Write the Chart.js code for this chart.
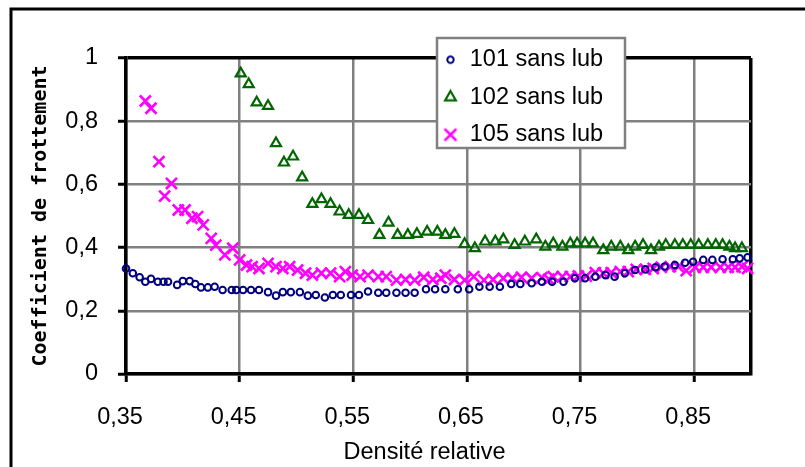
<!DOCTYPE html>
<html><head><meta charset="utf-8">
<script src="https://cdn.jsdelivr.net/npm/chart.js@4/dist/chart.umd.min.js"></script>
<style>html,body{margin:0;padding:0;background:#fff;}#wrap{width:805px;height:467px;}</style>
</head><body><div id="wrap"><canvas id="c" width="805" height="467"></canvas></div>
<script>
// ---- data ----
const seriesNames = ['101 sans lub', '102 sans lub', '105 sans lub'];
const x101 = [0.350,0.356,0.362,0.367,0.372,0.378,0.383,0.387,0.395,0.400,0.406,0.411,0.416,0.422,0.428,0.435,0.443,0.447,0.453,0.460,0.467,0.475,0.482,0.488,0.495,0.503,0.510,0.517,0.525,0.532,0.539,0.548,0.555,0.563,0.572,0.579,0.588,0.596,0.604,0.614,0.622,0.631,0.642,0.652,0.661,0.670,0.679,0.689,0.697,0.707,0.716,0.725,0.735,0.745,0.754,0.763,0.772,0.780,0.789,0.798,0.807,0.816,0.824,0.833,0.842,0.849,0.858,0.866,0.875,0.884,0.890,0.897];
const y101 = [0.334,0.319,0.306,0.292,0.301,0.292,0.292,0.292,0.282,0.294,0.294,0.285,0.274,0.274,0.276,0.266,0.266,0.266,0.266,0.266,0.266,0.259,0.248,0.259,0.259,0.259,0.248,0.250,0.242,0.250,0.250,0.250,0.250,0.261,0.257,0.257,0.257,0.257,0.257,0.268,0.268,0.268,0.268,0.268,0.276,0.276,0.276,0.285,0.285,0.287,0.292,0.292,0.292,0.303,0.303,0.308,0.313,0.308,0.319,0.329,0.331,0.338,0.340,0.345,0.352,0.355,0.361,0.361,0.363,0.363,0.366,0.369];
const x102 = [0.451,0.458,0.465,0.475,0.482,0.489,0.497,0.505,0.514,0.522,0.530,0.538,0.546,0.555,0.563,0.573,0.581,0.589,0.598,0.606,0.615,0.624,0.631,0.639,0.648,0.657,0.666,0.675,0.682,0.692,0.701,0.711,0.719,0.726,0.734,0.741,0.747,0.754,0.761,0.770,0.777,0.785,0.792,0.798,0.805,0.812,0.819,0.825,0.833,0.840,0.847,0.854,0.862,0.869,0.875,0.881,0.886,0.892];
const y102 = [0.951,0.917,0.859,0.848,0.730,0.669,0.688,0.622,0.538,0.553,0.538,0.514,0.503,0.503,0.487,0.440,0.479,0.440,0.440,0.443,0.450,0.450,0.440,0.443,0.411,0.398,0.419,0.419,0.426,0.408,0.419,0.426,0.403,0.413,0.403,0.413,0.413,0.413,0.413,0.392,0.403,0.403,0.392,0.403,0.408,0.392,0.403,0.408,0.408,0.408,0.408,0.408,0.408,0.408,0.408,0.403,0.398,0.398];
const x105 = [0.367,0.372,0.379,0.384,0.390,0.396,0.402,0.408,0.413,0.418,0.425,0.429,0.437,0.444,0.450,0.456,0.461,0.467,0.475,0.482,0.488,0.494,0.501,0.508,0.514,0.522,0.530,0.538,0.543,0.549,0.556,0.563,0.572,0.579,0.588,0.596,0.604,0.612,0.620,0.627,0.631,0.639,0.648,0.656,0.665,0.673,0.682,0.690,0.698,0.707,0.716,0.722,0.726,0.734,0.741,0.748,0.755,0.763,0.770,0.777,0.785,0.792,0.799,0.807,0.814,0.821,0.829,0.836,0.843,0.851,0.858,0.865,0.873,0.880,0.886,0.892,0.897];
const y105 = [0.864,0.841,0.672,0.563,0.603,0.519,0.519,0.493,0.498,0.472,0.429,0.408,0.377,0.398,0.361,0.345,0.340,0.334,0.350,0.340,0.334,0.340,0.329,0.319,0.313,0.319,0.319,0.308,0.324,0.313,0.308,0.313,0.308,0.308,0.297,0.299,0.297,0.306,0.299,0.303,0.313,0.299,0.297,0.308,0.297,0.299,0.303,0.303,0.306,0.303,0.305,0.300,0.308,0.308,0.308,0.310,0.310,0.321,0.319,0.321,0.324,0.324,0.331,0.331,0.334,0.338,0.340,0.340,0.327,0.338,0.338,0.338,0.338,0.338,0.338,0.340,0.334];
const xTickValues = [0.35, 0.45, 0.55, 0.65, 0.75, 0.85];
const xTickLabels = ['0,35', '0,45', '0,55', '0,65', '0,75', '0,85'];
const yTickValues = [0, 0.2, 0.4, 0.6, 0.8, 1];
const yTickLabels = ['0', '0,2', '0,4', '0,6', '0,8', '1'];
const xMin = 0.35, xMax = 0.9, yMin = 0, yMax = 1;
const xTitle = 'Densité relative';
const yTitle = 'Coefficient de frottement';

// ---- styling ----
const FONT = "'Liberation Sans', Arial, sans-serif";
const GRID = '#808080';
const COLORS = ['#000080', '#006600', '#ff00ff'];
const near = (a, b) => Math.abs(a - b) < 1e-9;

function legendIcon(kind, color, r, lw) {
  const size = Math.ceil(2 * r + lw + 4);
  const cv = document.createElement('canvas');
  cv.width = size; cv.height = size;
  const c = cv.getContext('2d');
  const m = size / 2;
  c.strokeStyle = color; c.lineWidth = lw;
  c.beginPath();
  if (kind === 'circle') {
    c.arc(m, m, r, 0, Math.PI * 2);
  } else if (kind === 'triangle') {
    c.moveTo(m, m - r);
    c.lineTo(m + r * 0.866, m + r * 0.5);
    c.lineTo(m - r * 0.866, m + r * 0.5);
    c.closePath();
  } else {
    const d = r * 0.7071;
    c.moveTo(m - d, m - d); c.lineTo(m + d, m + d);
    c.moveTo(m + d, m - d); c.lineTo(m - d, m + d);
  }
  c.stroke();
  return cv;
}
const legendIcons = [
  legendIcon('circle', COLORS[0], 3.2, 2),
  legendIcon('triangle', COLORS[1], 6.2, 2.2),
  legendIcon('cross', COLORS[2], 8.3, 2.6)
];

const decor = {
  id: 'decor',
  beforeDraw(chart) {
    const c = chart.ctx;
    c.save();
    c.fillStyle = '#fff';
    c.fillRect(0, 0, chart.width, chart.height);
    c.strokeStyle = '#000';
    c.lineWidth = 3;
    c.strokeRect(11, 9, chart.width + 20, chart.height + 20);
    c.restore();
  },
  afterLayout(chart) {
    const lg = chart.legend;
    if (lg) {
      lg.left = 429; lg.top = 34; lg.right = 640; lg.bottom = 200;
      lg.width = lg.right - lg.left; lg.height = lg.bottom - lg.top;
      if (!lg._boxed) {
        const orig = lg.draw;
        lg.draw = function (...a) {
          const c = this.ctx;
          c.save();
          c.fillStyle = '#fff';
          c.fillRect(437, 38, 188, 110);
          c.strokeStyle = GRID;
          c.lineWidth = 2.5;
          c.strokeRect(437, 38, 188, 110);
          c.restore();
          orig.apply(this, a);
        };
        lg._boxed = true;
      }
    }
    const xs = chart.scales.x;
    if (xs && !xs._p) {
      const o = xs.drawTitle;
      xs.drawTitle = function () { const c = this.ctx; c.save(); c.translate(-14, 0); o.call(this); c.restore(); };
      xs._p = true;
    }
  }
};

const pts = (xs, ys) => xs.map((x, i) => ({ x: x, y: ys[i] }));

new Chart(document.getElementById('c'), {
  type: 'scatter',
  data: {
    datasets: [
      { label: seriesNames[0], data: pts(x101, y101), pointStyle: 'circle', pointRadius: 3.3, borderColor: COLORS[0], pointBorderColor: COLORS[0], backgroundColor: 'rgba(0,0,0,0)', pointBackgroundColor: 'rgba(0,0,0,0)', borderWidth: 2, pointBorderWidth: 2, clip: false },
      { label: seriesNames[1], data: pts(x102, y102), pointStyle: 'triangle', pointRadius: 5.8, borderColor: COLORS[1], pointBorderColor: COLORS[1], backgroundColor: 'rgba(0,0,0,0)', pointBackgroundColor: 'rgba(0,0,0,0)', borderWidth: 2.2, pointBorderWidth: 2.2, clip: false },
      { label: seriesNames[2], data: pts(x105, y105), pointStyle: 'crossRot', pointRadius: 7.8, borderColor: COLORS[2], pointBorderColor: COLORS[2], backgroundColor: 'rgba(0,0,0,0)', pointBackgroundColor: 'rgba(0,0,0,0)', borderWidth: 2.6, pointBorderWidth: 2.6, clip: false }
    ]
  },
  options: {
    responsive: false,
    animation: false,
    devicePixelRatio: 1,
    layout: { padding: { left: 10, right: 54, top: 58, bottom: 0 } },
    plugins: {
      legend: {
        position: 'chartArea', align: 'start',
        labels: {
          usePointStyle: true, boxWidth: 15, boxHeight: 7, padding: 14, color: '#000',
          font: { family: FONT, size: 23.5 },
          generateLabels: chart => {
            const items = Chart.defaults.plugins.legend.labels.generateLabels(chart);
            items.forEach((it, i) => { it.pointStyle = legendIcons[i]; });
            return items;
          }
        }
      },
      tooltip: { enabled: false }
    },
    scales: {
      x: {
        type: 'linear', min: xMin, max: xMax,
        afterBuildTicks: s => { s.ticks = xTickValues.concat([xMax]).map(v => ({ value: v })); },
        afterFit: s => { s.height = 93; },
        ticks: {
          autoSkip: false, maxRotation: 0, padding: 21, labelOffset: -6, color: '#000',
          font: { family: FONT, size: 23.5 },
          callback: v => { const i = xTickValues.findIndex(t => near(t, v)); return i < 0 ? '' : xTickLabels[i]; }
        },
        grid: {
          color: c => near(c.tick.value, xMax) ? '#000' : GRID,
          lineWidth: c => near(c.tick.value, xMax) ? 3.5 : 2.5,
          tickColor: c => near(c.tick.value, xMax) ? 'rgba(0,0,0,0)' : '#000',
          tickWidth: 3, tickLength: 8
        },
        border: { color: '#000', width: 3.5 },
        title: { display: true, text: xTitle, color: '#000', font: { family: FONT, size: 23.5 }, padding: { top: 0, bottom: 0 } }
      },
      y: {
        type: 'linear', min: yMin, max: yMax,
        afterBuildTicks: s => { s.ticks = yTickValues.map(v => ({ value: v })); },
        afterFit: s => { s.width = 116; },
        ticks: {
          padding: 20, color: '#000', font: { family: FONT, size: 23.5 },
          callback: v => { const i = yTickValues.findIndex(t => near(t, v)); return i < 0 ? '' : yTickLabels[i]; }
        },
        grid: {
          color: c => near(c.tick.value, yMax) ? '#000' : GRID,
          lineWidth: c => near(c.tick.value, yMax) ? 3.5 : 2.5,
          tickColor: '#000', tickWidth: 3, tickLength: 8
        },
        border: { color: '#000', width: 3.5 },
        title: { display: true, text: yTitle, color: '#000', font: { family: "'DejaVu Sans Mono', monospace", size: 20, weight: 'bold' }, padding: { top: 19, bottom: 0 } }
      }
    }
  },
  plugins: [decor]
});
</script>
</body></html>
